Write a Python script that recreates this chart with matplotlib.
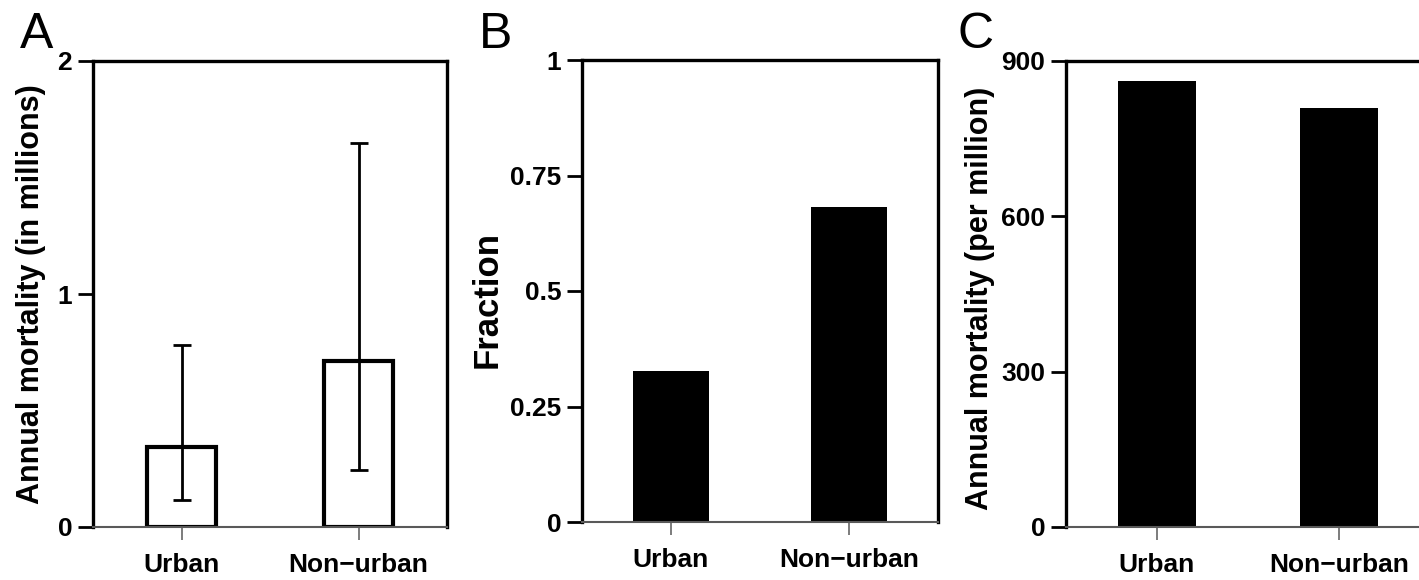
import matplotlib.pyplot as plt

plt.rcParams['font.family'] = ['Liberation Sans', 'DejaVu Sans']
plt.rcParams['font.weight'] = 'bold'

categories = ["Urban", "Non\u2212urban"]

# A: annual mortality in millions, with uncertainty range
mort_millions = [0.343, 0.712]
mort_low = [0.116, 0.245]
mort_high = [0.781, 1.648]

# B: fraction of deaths
fraction = [0.327, 0.682]

# C: annual mortality per million people
mort_per_million = [861, 809]

W, H = 1419, 580
fig = plt.figure(figsize=(W / 100, H / 100), dpi=100)


def px_axes(left, right, top, bottom):
    return fig.add_axes([left / W, 1 - bottom / H, (right - left) / W, (bottom - top) / H])


def style(ax, ymax, yticks, yticklabels):
    ax.set_xlim(-0.5, 1.5)
    ax.set_ylim(0, ymax)
    ax.set_yticks(yticks)
    ax.set_yticklabels(yticklabels)
    ax.set_xticks([0, 1])
    ax.set_xticklabels(categories)
    for s in ["left", "top", "right"]:
        ax.spines[s].set_linewidth(2.4)
        ax.spines[s].set_color("black")
    ax.spines["bottom"].set_linewidth(1.5)
    ax.spines["bottom"].set_color("0.35")
    ax.tick_params(axis="y", length=11, width=2, pad=4, labelsize=19)
    ax.tick_params(axis="x", length=9, width=1.2, color="0.4", pad=10, labelsize=19)
    for lab in ax.get_xticklabels() + ax.get_yticklabels():
        lab.set_fontweight("bold")


# Panel A
axA = px_axes(93, 447, 61, 527)
axA.bar([0, 1], mort_millions, width=0.39, facecolor="white", edgecolor="black", linewidth=3, zorder=2)
yerr = [[m - lo for m, lo in zip(mort_millions, mort_low)],
        [hi - m for m, hi in zip(mort_millions, mort_high)]]
axA.errorbar([0, 1], mort_millions, yerr=yerr, fmt="none", ecolor="black", elinewidth=2,
             capsize=6.5, capthick=2, zorder=3)
style(axA, 2, [0, 1, 2], ["0", "1", "2"])

# Panel B
axB = px_axes(582, 938, 60, 522)
axB.bar([0, 1], fraction, width=0.425, color="black", zorder=2)
style(axB, 1, [0, 0.25, 0.5, 0.75, 1], ["0", "0.25", "0.5", "0.75", "1"])

# Panel C (right side runs off the figure like the original)
axC = px_axes(1066, 1430, 61, 527)
axC.bar([0, 1], mort_per_million, width=0.425, color="black", zorder=2)
style(axC, 900, [0, 300, 600, 900], ["0", "300", "600", "900"])

# axis titles
fig.text(31 / W, 1 - 294 / H, "Annual mortality (in millions)", rotation=90,
         ha="center", va="center", fontsize=22, fontweight="bold")
fig.text(487 / W, 1 - 300 / H, "Fraction", rotation=90,
         ha="center", va="center", fontsize=25, fontweight="bold")
fig.text(980 / W, 1 - 298 / H, "Annual mortality (per million)", rotation=90,
         ha="center", va="center", fontsize=22, fontweight="bold")

# panel letters
for x, lab in [(20, "A"), (479, "B"), (957, "C")]:
    fig.text(x / W, 1 - 48 / H, lab, ha="left", va="baseline", fontsize=36, fontweight="normal")

fig.savefig("out.png", dpi=100)
